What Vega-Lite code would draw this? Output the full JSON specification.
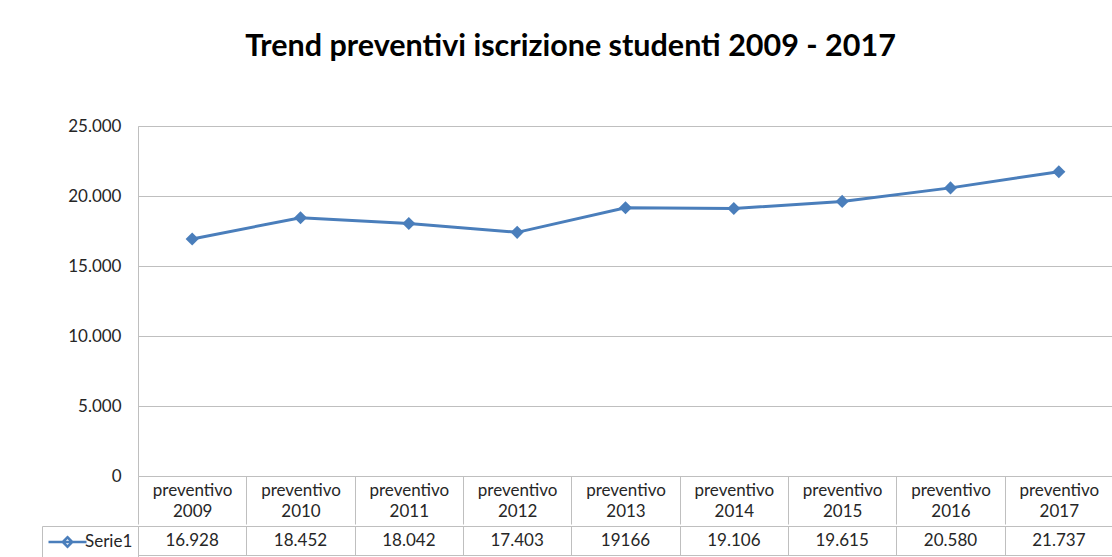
{
  "$schema": "https://vega.github.io/schema/vega-lite/v6.json",
  "padding": {"left": 41, "top": 32, "right": 0, "bottom": 0},
  "autosize": {"type": "pad"},
  "background": "white",
  "title": {
    "text": "Trend preventivi iscrizione studenti 2009 - 2017",
    "font": "Lato",
    "fontSize": 30.5,
    "fontWeight": "bold",
    "color": "#000000",
    "anchor": "middle",
    "offset": 54,
    "dx": -7
  },
  "datasets": {
    "tab": [
      {"periodo": "preventivo 2009", "valore": 16928, "etichetta": "16.928"},
      {"periodo": "preventivo 2010", "valore": 18452, "etichetta": "18.452"},
      {"periodo": "preventivo 2011", "valore": 18042, "etichetta": "18.042"},
      {"periodo": "preventivo 2012", "valore": 17403, "etichetta": "17.403"},
      {"periodo": "preventivo 2013", "valore": 19166, "etichetta": "19166"},
      {"periodo": "preventivo 2014", "valore": 19106, "etichetta": "19.106"},
      {"periodo": "preventivo 2015", "valore": 19615, "etichetta": "19.615"},
      {"periodo": "preventivo 2016", "valore": 20580, "etichetta": "20.580"},
      {"periodo": "preventivo 2017", "valore": 21737, "etichetta": "21.737"}
    ]
  },
  "spacing": 0,
  "resolve": {"legend": {"color": "independent"}},
  "vconcat": [
    {
      "width": 975,
      "height": 350,
      "data": {"name": "tab"},
      "mark": {
        "type": "line",
        "color": "#4a7ebb",
        "strokeWidth": 3,
        "point": {"shape": "diamond", "size": 170, "filled": true, "color": "#4a7ebb", "opacity": 1}
      },
      "encoding": {
        "x": {
          "field": "periodo",
          "type": "nominal",
          "sort": null,
          "bandPosition": 0.5,
          "scale": {"type": "band", "paddingInner": 0, "paddingOuter": 0},
          "axis": {
            "title": null,
            "orient": "bottom",
            "labelExpr": "isValid(datum.value) ? split(datum.value, ' ') : ''",
            "labelAngle": 0,
            "tickBand": "extent",
            "tickSize": 48,
            "tickColor": "#bfbfbf",
            "tickWidth": 1,
            "domain": false,
            "grid": false,
            "labelPadding": -42,
            "labelLineHeight": 21,
            "labelFont": "Lato",
            "labelFontSize": 17,
            "labelColor": "#262626",
            "labelBaseline": "top"
          }
        },
        "y": {
          "field": "valore",
          "type": "quantitative",
          "scale": {"domain": [0, 25000], "nice": false},
          "axis": {
            "title": null,
            "values": [0, 5000, 10000, 15000, 20000, 25000],
            "labelExpr": "replace(format(datum.value, ','), ',', '.')",
            "ticks": false,
            "domain": false,
            "labelPadding": 17,
            "labelFont": "Lato",
            "labelFontSize": 17,
            "labelColor": "#262626",
            "gridColor": "#bfbfbf",
            "gridWidth": 1
          }
        }
      }
    },
    {
      "width": 975,
      "height": 29,
      "data": {"name": "tab"},
      "encoding": {
        "x": {
          "field": "periodo",
          "type": "nominal",
          "sort": null,
          "bandPosition": 0.5,
          "scale": {"type": "band", "paddingInner": 0, "paddingOuter": 0},
          "axis": {
            "title": null,
            "labels": false,
            "ticks": false,
            "domain": false,
            "grid": true,
            "tickBand": "extent",
            "gridColor": "#bfbfbf",
            "gridWidth": 1
          }
        }
      },
      "layer": [
        {
          "mark": {"type": "text", "font": "Lato", "fontSize": 17, "color": "#262626", "baseline": "middle"},
          "encoding": {"text": {"field": "etichetta"}}
        },
        {
          "mark": {"type": "point", "opacity": 0},
          "encoding": {
            "color": {
              "datum": "Serie1",
              "scale": {"range": ["#4a7ebb"]},
              "legend": {
                "title": null,
                "orient": "left",
                "offset": 0,
                "padding": 5,
                "strokeColor": "#bfbfbf",
                "symbolType": "M-1,0L3,0M1,-0.5L1.5,0L1,0.5L0.5,0Z",
                "symbolSize": 361,
                "symbolFillColor": "#4a7ebb",
                "symbolStrokeColor": "#4a7ebb",
                "symbolStrokeWidth": 2.5,
                "symbolOpacity": 1,
                "labelFont": "Lato",
                "labelFontSize": 17,
                "labelColor": "#262626",
                "labelOffset": 16
              }
            }
          }
        }
      ]
    }
  ],
  "config": {
    "view": {"stroke": "#bfbfbf", "strokeWidth": 1}
  }
}
